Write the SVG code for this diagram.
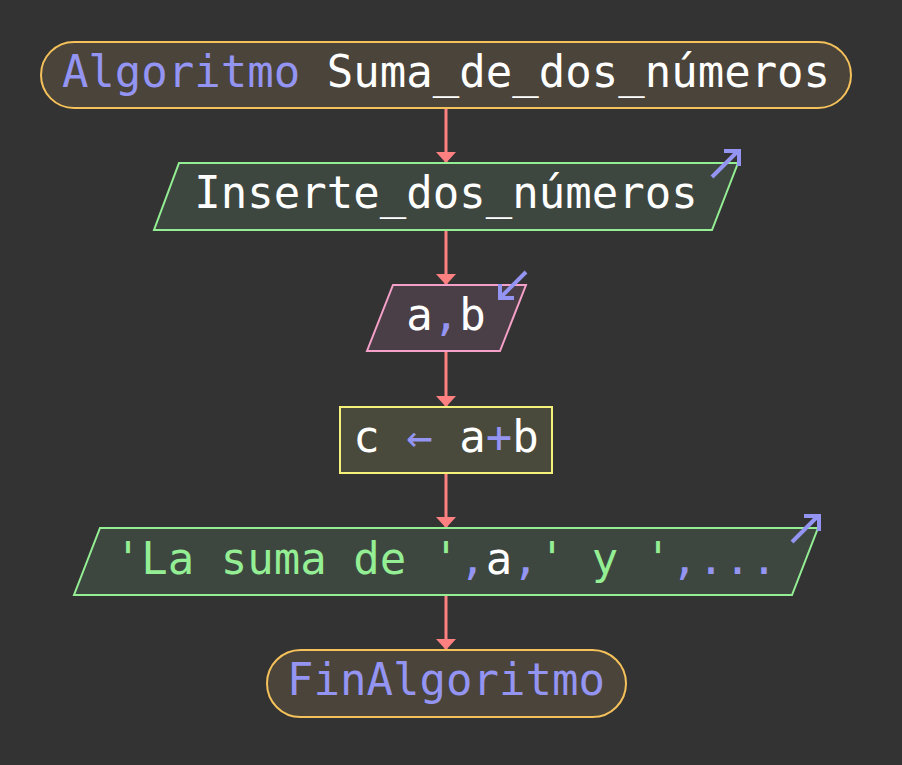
<svg xmlns="http://www.w3.org/2000/svg" width="902" height="765" viewBox="0 0 902 765">
  <defs>
    <marker id="arrow" markerWidth="11" markerHeight="20" refX="11" refY="10" orient="auto" markerUnits="userSpaceOnUse" viewBox="0 0 11 20">
      <path d="M0,0 L11,10 L0,20 Z" fill="#ff8080"/>
    </marker>
    <style>
      text { font-family: "DejaVu Sans Mono", "Liberation Mono", monospace; font-size: 44px; text-anchor: middle; fill: #ffffff; }
      .kw { fill: #9494f2; }
      .str { fill: #94ee94; }
      .terminal { fill: #4a443a; stroke: #f5c15a; stroke-width: 2; }
      .io { fill: #3e473f; stroke: #94ee94; stroke-width: 2; }
      .read { fill: #4a3f47; stroke: #f5a0c8; stroke-width: 2; }
      .proc { fill: #4a4a3c; stroke: #f5f07a; stroke-width: 2; }
      .edge { stroke: #ff8080; stroke-width: 3; fill: none; }
      .dir { stroke: #9494f2; stroke-width: 4; fill: none; stroke-linecap: butt; }
    </style>
  </defs>
  <rect width="902" height="765" fill="#333333"/>

  <g id="connectors">
    <line class="edge" x1="446" y1="108" x2="446" y2="163" marker-end="url(#arrow)"/>
    <line class="edge" x1="446" y1="230" x2="446" y2="285" marker-end="url(#arrow)"/>
    <line class="edge" x1="446" y1="351" x2="446" y2="407" marker-end="url(#arrow)"/>
    <line class="edge" x1="446" y1="473" x2="446" y2="528" marker-end="url(#arrow)"/>
    <line class="edge" x1="446" y1="595" x2="446" y2="650" marker-end="url(#arrow)"/>
  </g>

  <g id="start">
    <rect class="terminal" x="41" y="42" width="810" height="66" rx="33"/>
    <text x="446" y="87"><tspan class="kw">Algoritmo</tspan> Suma_de_dos_números</text>
  </g>

  <g id="write-prompt">
    <polygon class="io" points="179,163 738,163 712,230 154,230"/>
    <text x="446" y="208">Inserte_dos_números</text>
    <path class="dir" d="M712,177 L738,151 M724,151 L739,151 L739,166"/>
  </g>

  <g id="read-ab">
    <polygon class="read" points="393,285 526,285 500,351 367,351"/>
    <text x="446" y="330">a<tspan class="kw">,</tspan>b</text>
    <path class="dir" d="M526,272 L500,298 M500,284 L500,298 L514,298"/>
  </g>

  <g id="assign">
    <rect class="proc" x="340" y="407" width="212" height="66"/>
    <text x="446" y="452">c <tspan class="kw">←</tspan> a<tspan class="kw">+</tspan>b</text>
  </g>

  <g id="write-result">
    <polygon class="io" points="100,528 818,528 792,595 74,595"/>
    <text x="446" y="574"><tspan class="str">'La suma de '</tspan><tspan class="kw">,</tspan>a<tspan class="kw">,</tspan><tspan class="str">' y '</tspan><tspan class="kw">,...</tspan></text>
    <path class="dir" d="M792,542 L818,516 M804,516 L819,516 L819,531"/>
  </g>

  <g id="end">
    <rect class="terminal" x="267" y="650" width="359" height="67" rx="33.5"/>
    <text x="446" y="695" class="kw">FinAlgoritmo</text>
  </g>
</svg>
